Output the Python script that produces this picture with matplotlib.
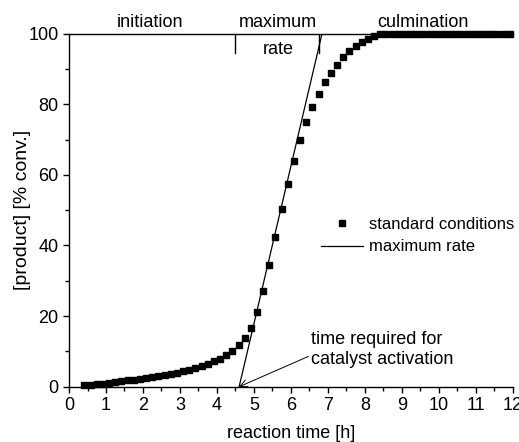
import numpy as np
import matplotlib.pyplot as plt
from matplotlib.ticker import MultipleLocator

plt.rcParams['font.family'] = ['Liberation Sans', 'DejaVu Sans']
plt.rcParams['font.size'] = 13

# Sampling every 10 min, starting 25 min into the reaction
time_h = 25 / 60 + np.arange(70) / 6
conversion = [
    0.5, 0.6, 0.7, 0.8, 1.0, 1.3, 1.5, 1.8, 2.0, 2.2,
    2.5, 2.7, 3.1, 3.4, 3.6, 4.0, 4.4, 4.8, 5.3, 5.8,
    6.4, 7.3, 7.9, 8.9, 10.2, 11.7, 13.8, 16.7, 21.1, 27.1,
    34.4, 42.5, 50.2, 57.5, 64.0, 69.9, 75.0, 79.3, 83.0, 86.2,
    88.9, 91.1, 93.4, 95.0, 96.5, 97.7, 98.6, 99.4, 99.8, 100.0,
    100.0, 100.0, 100.0, 100.0, 100.0, 100.0, 100.0, 100.0, 100.0, 100.0,
    100.0, 100.0, 100.0, 100.0, 100.0, 100.0, 100.0, 100.0, 100.0, 100.0,
]

# Tangent at the inflection point
t_activation = 4.6      # intercept with the time axis [h]
max_rate = 44.6         # slope [% conv. / h]
rate_y = [0, 100]
rate_x = [t_activation + y / max_rate for y in rate_y]

# Phase boundaries and labels along the top
phase_bounds = [4.5, 6.76]
phase_labels = ["initiation", "maximum", "culmination"]
phase_label_x = [2.2, 5.65, 9.57]

fig = plt.figure(figsize=(5.19, 4.42), dpi=100)
ax = fig.add_axes([0.133, 0.125, 0.855, 0.799])

ax.plot(time_h, conversion, 's', color='black', markersize=3.8,
        label="standard conditions", clip_on=False)
ax.plot(rate_x, rate_y, '-', color='black', lw=0.9, label="maximum rate")

for xb in phase_bounds:
    ax.plot([xb, xb], [100, 94.5], color='black', lw=1.0)
for lab, xl in zip(phase_labels, phase_label_x):
    ax.text(xl, 100.6, lab, ha='center', va='bottom')
ax.text(5.65, 98.0, "rate", ha='center', va='top')

ax.annotate("time required for\ncatalyst activation",
            xy=(t_activation, 0), xytext=(6.55, 10.5),
            ha='left', va='center', linespacing=1.2,
            arrowprops=dict(arrowstyle='->', color='black', lw=0.7,
                            shrinkA=0, shrinkB=0,
                            relpos=(0.0, 0.35)))

ax.set_xlim(0, 12)
ax.set_ylim(0, 100)
ax.xaxis.set_major_locator(MultipleLocator(1))
ax.xaxis.set_minor_locator(MultipleLocator(0.5))
ax.yaxis.set_major_locator(MultipleLocator(20))
ax.yaxis.set_minor_locator(MultipleLocator(10))
ax.tick_params(which='major', direction='out', length=4.5, width=1.0, pad=3)
ax.tick_params(which='minor', direction='out', length=2.8, width=1.0)
ax.spines['right'].set_visible(False)
for s in ['left', 'bottom', 'top']:
    ax.spines[s].set_linewidth(1.0)

ax.set_xlabel("reaction time [h]", labelpad=8)
ax.set_ylabel("[product] [% conv.]", fontsize=14)
ax.yaxis.set_label_coords(-0.086, 0.5)

ax.legend(loc='center left', bbox_to_anchor=(0.568, 0.428), frameon=False,
          fontsize=12, handlelength=2.5, handletextpad=0.4, labelspacing=0.45,
          borderaxespad=0, borderpad=0)

fig.savefig("out.png", dpi=100)
